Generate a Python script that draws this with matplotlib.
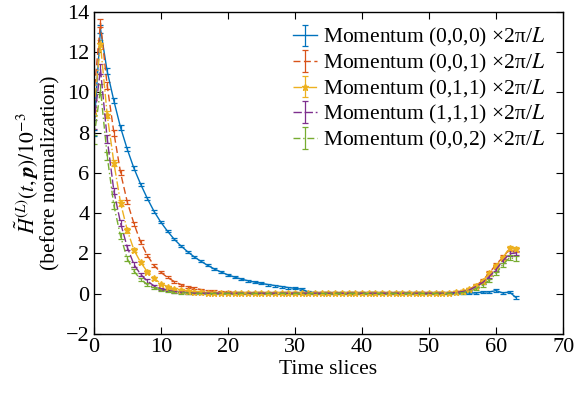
import numpy as np
import matplotlib
matplotlib.use("Agg")
import matplotlib.pyplot as plt

plt.rcParams["font.family"] = ["Liberation Serif", "DejaVu Serif"]
plt.rcParams["mathtext.fontset"] = "stix"
plt.rcParams["font.size"] = 16

t = np.arange(64)

# momentum (0,0,0)
h000 = ([8.0, 13.15, 11.05, 9.58, 8.25, 7.17, 6.22, 5.43, 4.72, 4.08,
         3.55, 3.1, 2.7, 2.37, 2.08, 1.82, 1.6, 1.4, 1.22, 1.07,
         0.93, 0.82, 0.72, 0.64, 0.57, 0.51, 0.45, 0.4, 0.35, 0.3,
         0.26, 0.22, 0.08, 0.04]
        + [0.02] * 21
        + [0.05, 0.03, 0.03, 0.08, 0.08, 0.15, 0.03, 0.08, -0.21])
e000 = ([0.15, 0.2, 0.15, 0.12, 0.12, 0.1, 0.1, 0.08, 0.08, 0.07]
        + [0.05] * 45
        + [0.05, 0.05, 0.05, 0.05, 0.06, 0.06, 0.06, 0.07, 0.08])

# momentum (0,0,1)
h001 = ([9.8, 13.45, 10.35, 8.0, 6.0, 4.55, 3.47, 2.55, 1.89, 1.39,
         1.06, 0.8, 0.6, 0.45, 0.35, 0.26, 0.2, 0.15, 0.11, 0.08,
         0.06, 0.05]
        + [0.03] * 32
        + [0.08, 0.12, 0.22, 0.4, 0.65, 1.03, 1.45, 1.8, 2.2, 2.15])
e001 = ([0.2, 0.22, 0.18, 0.15, 0.13, 0.12, 0.1, 0.09, 0.08, 0.07]
        + [0.05] * 44
        + [0.05, 0.05, 0.06, 0.06, 0.07, 0.08, 0.09, 0.1, 0.1, 0.1])

# momentum (0,1,1)
h011 = ([9.05, 12.4, 8.9, 6.5, 4.5, 3.15, 2.16, 1.55, 1.08, 0.75,
         0.5, 0.35, 0.25, 0.18, 0.12, 0.09, 0.07, 0.05]
        + [0.03] * 36
        + [0.07, 0.12, 0.22, 0.4, 0.62, 1.0, 1.39, 1.78, 2.27, 2.22])
e011 = ([0.2, 0.22, 0.18, 0.15, 0.13, 0.12, 0.1, 0.09, 0.08, 0.07]
        + [0.05] * 44
        + [0.05, 0.05, 0.06, 0.06, 0.07, 0.08, 0.09, 0.1, 0.1, 0.1])

# momentum (1,1,1)
h111 = ([8.4, 11.15, 7.7, 5.1, 3.5, 2.3, 1.44, 0.95, 0.62, 0.38,
         0.25, 0.16, 0.1, 0.07, 0.05]
        + [0.02] * 39
        + [0.06, 0.1, 0.18, 0.35, 0.55, 0.85, 1.2, 1.63, 1.98, 2.02])
e111 = ([0.22, 0.25, 0.2, 0.17, 0.15, 0.13, 0.11, 0.09, 0.08, 0.07]
        + [0.05] * 44
        + [0.05, 0.05, 0.06, 0.06, 0.07, 0.08, 0.09, 0.1, 0.12, 0.12])

# momentum (0,0,2)
h002 = ([7.65, 10.15, 6.84, 4.38, 2.85, 1.73, 1.11, 0.7, 0.45, 0.28,
         0.18, 0.11, 0.07, 0.05, 0.03]
        + [0.01] * 39
        + [0.03, 0.05, 0.12, 0.25, 0.42, 0.66, 1.0, 1.44, 1.78, 1.73])
e002 = ([0.22, 0.25, 0.2, 0.17, 0.15, 0.13, 0.11, 0.09, 0.08, 0.07]
        + [0.05] * 44
        + [0.05, 0.05, 0.06, 0.06, 0.07, 0.08, 0.09, 0.1, 0.12, 0.12])

labels = ["(0,0,0)", "(0,0,1)", "(0,1,1)", "(1,1,1)", "(0,0,2)"]
colors = ["#0072BD", "#D95319", "#EDB120", "#7E2F8E", "#77AC30"]
styles = ["-", (0, (5, 2.5)), "-.", (0, (6, 2)), (0, (5, 2, 1, 2))]
markers = ["", "", "*", "", ""]

fig = plt.figure(figsize=(5.86, 3.96), dpi=100)
ax = fig.add_axes([0.160, 0.157, 0.801, 0.813])

series = [(h000, e000), (h001, e001), (h011, e011), (h111, e111), (h002, e002)]
for (h, e), lab, c, ls, mk in zip(series, labels, colors, styles, markers):
    ax.errorbar(t, h, yerr=e, color=c, ls=ls, lw=1.0, marker=mk, ms=5,
                capsize=2.5, elinewidth=0.9, capthick=0.9,
                label="Momentum " + lab + r" ×2π/$L$")

ax.set_xlim(0, 70)
ax.set_ylim(-2, 14)
ax.set_xticks(range(0, 71, 10))
ax.set_yticks(range(-2, 15, 2))
ax.set_yticklabels(["\u22122", "0", "2", "4", "6", "8", "10", "12", "14"])
ax.tick_params(direction="in", top=True, right=True, length=5, labelsize=16,
               pad=3)
for s in ax.spines.values():
    s.set_linewidth(1.0)

ax.set_xlabel("Time slices", fontsize=15.5, labelpad=2)
ax.set_ylabel(r"$\tilde{H}^{(L)}(t,\mathbfit{p})/10^{-3}$" + "\n(before normalization)",
              fontsize=15.5, labelpad=4, linespacing=1.0)

ax.legend(loc="upper right", frameon=False, fontsize=15.5, handlelength=1.1,
          handletextpad=0.3, labelspacing=0.12, borderaxespad=0.2,
          bbox_to_anchor=(0.99, 0.995))

fig.savefig("out.png", dpi=100)
